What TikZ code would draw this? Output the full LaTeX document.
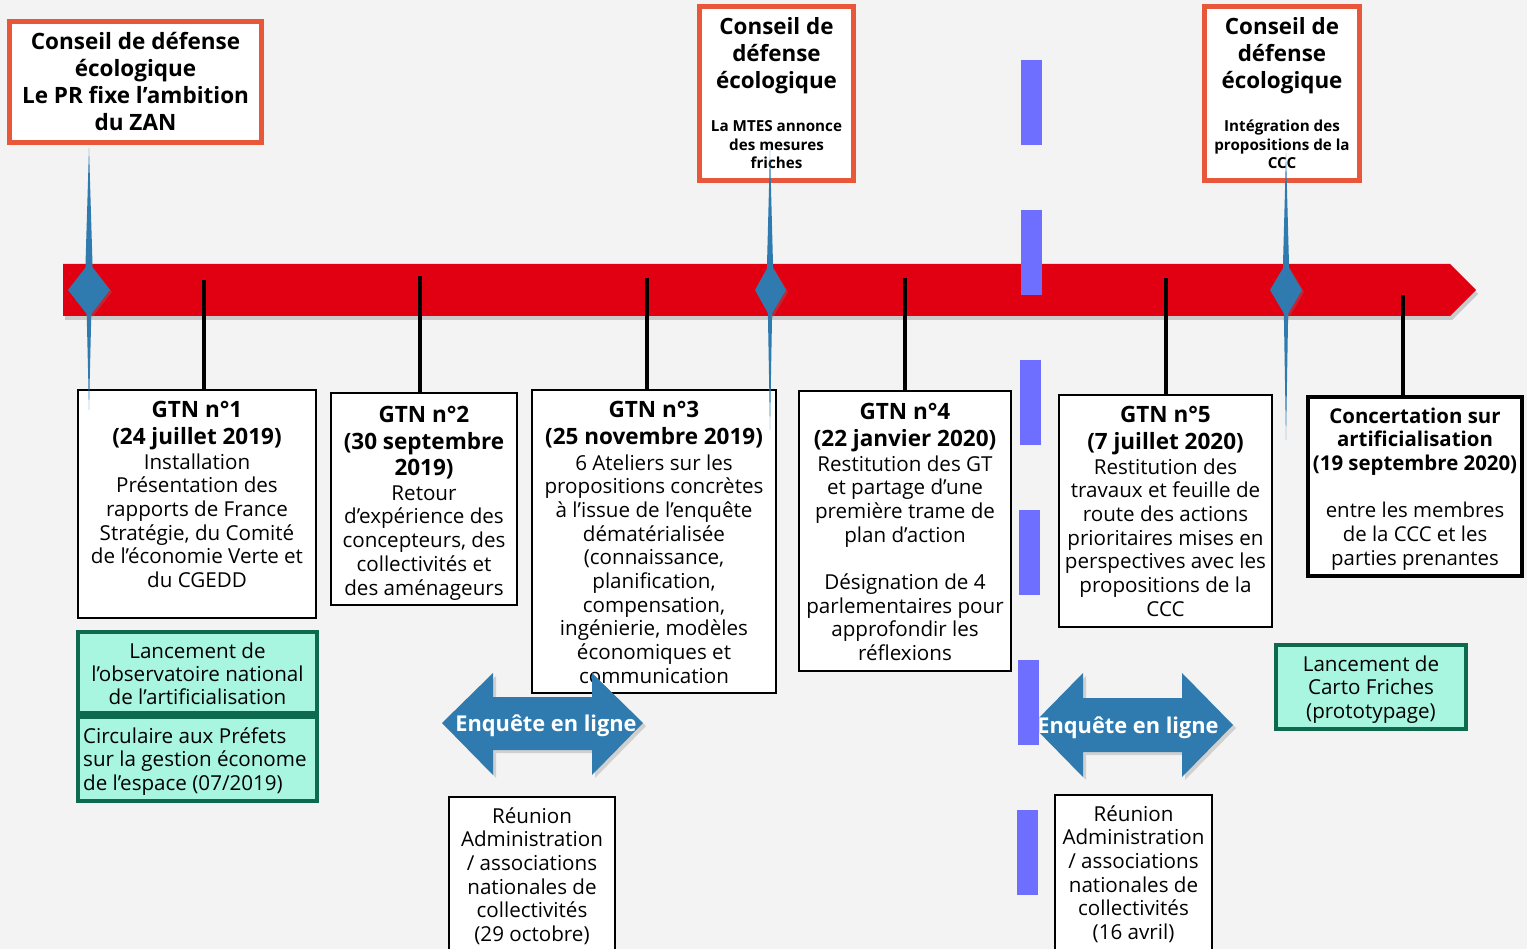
\documentclass[tikz,border=0pt]{standalone}
\usepackage{fontspec}
\setmainfont{Open Sans}
\usetikzlibrary{shadows}
\definecolor{bg}{HTML}{F3F3F3}
\definecolor{redbar}{HTML}{E00012}
\definecolor{orng}{HTML}{E8573A}
\definecolor{bluea}{HTML}{2F7BB0}
\definecolor{purp}{HTML}{6E6EFF}
\definecolor{mint}{HTML}{A8F5E0}
\definecolor{dgreen}{HTML}{0E6A4E}
\begin{document}
\begin{tikzpicture}[x=1pt,y=-1pt,
  orangebox/.style={draw=orng, line width=5pt, fill=white, anchor=north west, inner sep=0pt, outer sep=0pt},
  gtnbox/.style={draw=black, line width=2.5pt, fill=white, anchor=north west, inner sep=0pt, outer sep=0pt},
  concbox/.style={gtnbox, line width=4pt},
  greenbox/.style={draw=dgreen, line width=4pt, fill=mint, anchor=north west, inner sep=0pt, outer sep=0pt},
  txt/.style={anchor=base, align=center, inner sep=0pt, font=\fontsize{20.6}{23.7}\selectfont},
  head/.style={txt, font=\fontsize{22.5}{27}\selectfont\bfseries},
  bighead/.style={txt, font=\fontsize{22.4}{27}\selectfont\bfseries},
  small/.style={txt, font=\fontsize{15.2}{18.5}\selectfont\bfseries},
  tick/.style={draw=black, line width=4pt},
  needle/.style={fill=bluea},
  dashseg/.style={fill=purp},
  arrowshape/.style={fill=bluea, drop shadow={opacity=0.3, shadow xshift=3pt, shadow yshift=-3pt}},
  arrowtext/.style={anchor=base, inner sep=0pt, text=white, font=\fontsize{21.8}{27}\selectfont\bfseries}
]
\fill[bg] (0,0) rectangle (1527,949);
\useasboundingbox (0,0) rectangle (1527,949);

% timeline bar
\fill[redbar, drop shadow={opacity=0.35, shadow xshift=2pt, shadow yshift=-4pt}]
  (63,264) -- (1450,264) -- (1476,290) -- (1450,316) -- (63,316) -- cycle;

% purple dashed separator
\fill[dashseg] (1021,60) rectangle (1042,145);
\fill[dashseg] (1020.5,210) rectangle (1041.5,295);
\fill[dashseg] (1020,360) rectangle (1041,445);
\fill[dashseg] (1019,510) rectangle (1040,595);

% top boxes (text nodes anchored at the baseline of their last line)
\node[orangebox, minimum width=252pt, minimum height=121pt] (cdd1) at (9.5,21.5) {};
\node[head] (cdd1t) at (135.5,131) {Conseil de défense\\écologique\\Le PR fixe l’ambition\\du ZAN};
\node[orangebox, minimum width=154pt, minimum height=174pt] (cdd2) at (699.5,6.5) {};
\node[bighead] (cdd2t) at (776.5,89) {Conseil de\\défense\\écologique};
\node[small] (cdd2s) at (776.5,169) {La MTES annonce\\des mesures\\friches};
\node[orangebox, minimum width=155pt, minimum height=174pt] (cdd3) at (1204.5,6.5) {};
\node[bighead] (cdd3t) at (1282,89) {Conseil de\\défense\\écologique};
\node[small] (cdd3s) at (1282,169) {Intégration des\\propositions de la\\CCC};

% GTN boxes
\node[gtnbox, minimum width=238pt, minimum height=228pt] (gtn1) at (78,390) {};
\node[head] (gtn1h) at (197,445) {GTN n°1\\(24 juillet 2019)};
\node[txt] (gtn1b) at (197,587.5) {Installation\\Présentation des\\rapports de France\\Stratégie, du Comité\\de l’économie Verte et\\du CGEDD};

\node[gtnbox, minimum width=186pt, minimum height=212pt] (gtn2) at (331,393) {};
\node[head] (gtn2h) at (424,476) {GTN n°2\\(30 septembre\\2019)};
\node[txt] (gtn2b) at (424,595) {Retour\\d’expérience des\\concepteurs, des\\collectivités et\\des aménageurs};

\node[gtnbox, minimum width=244pt, minimum height=303pt] (gtn3) at (532,390) {};
\node[head] (gtn3h) at (654,445) {GTN n°3\\(25 novembre 2019)};
\node[txt] (gtn3b) at (654,683.3) {6 Ateliers sur les\\propositions concrètes\\à l’issue de l’enquête\\dématérialisée\\(connaissance,\\planification,\\compensation,\\ingénierie, modèles\\économiques et\\communication};

\node[gtnbox, minimum width=212pt, minimum height=280pt] (gtn4) at (799,391) {};
\node[head] (gtn4h) at (905,447) {GTN n°4\\(22 janvier 2020)};
\node[txt] (gtn4b) at (905,660.6) {Restitution des GT\\et partage d’une\\première trame de\\plan d’action\\[23.7pt]Désignation de 4\\parlementaires pour\\approfondir les\\réflexions};

\node[gtnbox, minimum width=213pt, minimum height=232pt] (gtn5) at (1059,395) {};
\node[head] (gtn5h) at (1165.5,450) {GTN n°5\\(7 juillet 2020)};
\node[txt] (gtn5b) at (1165.5,616.2) {Restitution des\\travaux et feuille de\\route des actions\\prioritaires mises en\\perspectives avec les\\propositions de la\\CCC};

\node[concbox, minimum width=214pt, minimum height=179pt] (conc) at (1308,397) {};
\node[txt, font=\fontsize{20.4}{23.7}\selectfont] (conct) at (1415,565.2) {\textbf{Concertation sur}\\\textbf{artificialisation}\\\textbf{(19 septembre 2020)}\\[23.7pt]entre les membres\\de la CCC et les\\parties prenantes};

% green boxes
\node[greenbox, minimum width=239pt, minimum height=81pt] (obs) at (78,632) {};
\node[txt, font=\fontsize{20.6}{23}\selectfont] (obst) at (197.5,704) {Lancement de\\l’observatoire national\\de l’artificialisation};
\node[greenbox, minimum width=239pt, minimum height=84pt] (circ) at (78,717) {};
\node[txt, anchor=base west, align=left, font=\fontsize{20.6}{23.5}\selectfont] (circt) at (83,790) {Circulaire aux Préfets\\sur la gestion économe\\de l’espace (07/2019)};
\node[greenbox, minimum width=190pt, minimum height=84pt] (carto) at (1276,645) {};
\node[txt, font=\fontsize{20.6}{23.5}\selectfont] (cartot) at (1371,718) {Lancement de\\Carto Friches\\(prototypage)};

% Réunion boxes
\node[gtnbox, minimum width=166pt, minimum height=170pt] (reu1) at (449,797) {};
\node[txt] (reu1t) at (532,941.5) {Réunion\\Administration\\/ associations\\nationales de\\collectivités\\(29 octobre)};
\node[gtnbox, minimum width=157pt, minimum height=170pt] (reu2) at (1055,795) {};
\node[txt] (reu2t) at (1133.5,939.5) {Réunion\\Administration\\/ associations\\nationales de\\collectivités\\(16 avril)};

% ticks from bar to boxes
\coordinate (t1) at (204,280); \draw[tick] (t1) -- (t1 |- gtn1.north);
\coordinate (t2) at (420,276); \draw[tick] (t2) -- (t2 |- gtn2.north);
\coordinate (t3) at (647,278); \draw[tick] (t3) -- (t3 |- gtn3.north);
\coordinate (t4) at (905,278); \draw[tick] (t4) -- (t4 |- gtn4.north);
\coordinate (t5) at (1166,278); \draw[tick] (t5) -- (t5 |- gtn5.north);
\coordinate (t6) at (1403,295); \draw[tick] (t6) -- (t6 |- conc.north);

% needles and diamonds
\fill[needle] (89,148) -- (92.5,264) -- (89,410) -- (85.5,264) -- cycle;
\fill[needle, drop shadow={opacity=0.3, shadow xshift=2pt, shadow yshift=-2pt}] (68,290) -- (89,263) -- (110,290) -- (89,317) -- cycle;
\fill[needle] (770,150) -- (773,264) -- (770,430) -- (767,264) -- cycle;
\fill[needle, drop shadow={opacity=0.3, shadow xshift=2pt, shadow yshift=-2pt}] (755,290) -- (770,263) -- (786,290) -- (770,317) -- cycle;
\fill[needle] (1286,153) -- (1289,264) -- (1286,440) -- (1283,264) -- cycle;
\fill[needle, drop shadow={opacity=0.3, shadow xshift=2pt, shadow yshift=-2pt}] (1270,290) -- (1286,263) -- (1302,290) -- (1286,317) -- cycle;

% Enquête arrows
\fill[arrowshape] (442,723) -- (493,673) -- (493,697) -- (592,697) -- (592,673) -- (643,723) -- (592,775) -- (592,750) -- (493,750) -- (493,775) -- cycle;
\node[arrowtext] (enq1) at (546,731) {Enquête en ligne};
\fill[arrowshape] (1032,725) -- (1083,673) -- (1083,698) -- (1182,698) -- (1182,673) -- (1233,725) -- (1182,777) -- (1182,752) -- (1083,752) -- (1083,777) -- cycle;
\fill[dashseg] (1018,660) rectangle (1039,745);
\fill[dashseg] (1017,810) rectangle (1038,895);
\node[arrowtext] (enq2) at (1128,733) {Enquête en ligne};
\end{tikzpicture}
\end{document}
